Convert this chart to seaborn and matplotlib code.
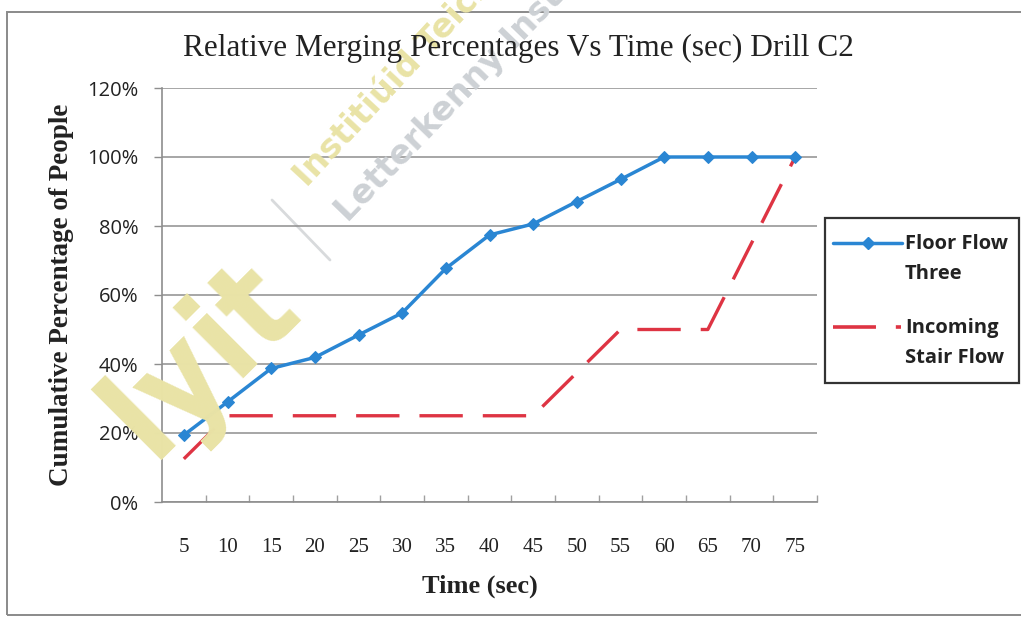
import matplotlib
matplotlib.use("Agg")
import matplotlib.pyplot as plt
from matplotlib.lines import Line2D
from matplotlib.patches import Rectangle
import numpy as np
import pandas as pd
import seaborn as sns

# Drill C2 timings (seconds) and cumulative percentage of people merged
times = [5, 10, 15, 20, 25, 30, 35, 40, 45, 50, 55, 60, 65, 70, 75]
floor_flow_three = [19.4, 29.0, 38.7, 41.9, 48.4, 54.8, 67.7, 77.4, 80.6, 87.1, 93.5,
                    100, 100, 100, 100]
incoming_stair_flow = [12.5, 25, 25, 25, 25, 25, 25, 25, 25, 37.5, 50, 50, 50, 75, 100]
y_ticks = [0, 20, 40, 60, 80, 100, 120]

series_names = ["Floor Flow\nThree", "Incoming\nStair Flow"]
title = "Relative Merging Percentages Vs Time (sec) Drill C2"
x_label = "Time (sec)"
y_label = "Cumulative Percentage of People"

BLUE = "#2a86d3"
RED = "#de3443"
GRID = "#8e8e8e"
INK = "#222222"
SERIF = "Liberation Serif"
SANS = "Open Sans"

sns.set_theme(style="white")
plt.rcParams["font.family"] = ["DejaVu Sans"]

df = pd.DataFrame({
    "time": times,
    "floor": floor_flow_three,
    "stair": incoming_stair_flow,
})

W, H = 1021, 619


def fx(px):
    return px / W


def fy(py):
    return 1 - py / H


fig = plt.figure(figsize=(W / 100, H / 100), dpi=100)
fig.patch.set_facecolor("white")

# Outer chart frame
fig.add_artist(Rectangle((fx(7), fy(615)), 1.1, (615 - 12) / H,
                         transform=fig.transFigure, fill=False,
                         edgecolor="#8a8a8a", lw=1.4, zorder=0))

ax = fig.add_axes([fx(162), fy(502), (817 - 162) / W, (502 - 88) / H])
ax.set_facecolor("none")

# Faint institutional watermark behind the plot
wm = dict(transform=fig.transFigure, ha="left", va="baseline",
          rotation_mode="anchor", zorder=0, family="DejaVu Sans", weight="bold")
fig.text(fx(152), fy(460), "lyit", fontsize=94, color="#e9e3a6", rotation=45,
         fontstretch="condensed", **wm)
fig.add_artist(Line2D([fx(272), fx(330)], [fy(200), fy(260)],
                      transform=fig.transFigure, color="#d8dadc", lw=2, zorder=0))
fig.text(fx(307), fy(188), "Institiúid Teicneolaíochta", fontsize=24,
         color="#e9e3a6", rotation=47, **wm)
fig.text(fx(348), fy(223), "Letterkenny Institute", fontsize=24,
         color="#cdd1d5", rotation=46, **wm)

sns.lineplot(data=df, x="time", y="stair", ax=ax, color=RED, lw=2.4,
             linestyle=(0, (13, 6)), zorder=3)
sns.lineplot(data=df, x="time", y="floor", ax=ax, color=BLUE, lw=2.5,
             marker="D", markersize=6.5, markeredgecolor=BLUE, zorder=4)

ax.set_xlim(2.5, 77.5)
ax.set_ylim(0, 120)
ax.set_yticks(y_ticks)
ax.set_yticklabels([f"{v}%" for v in y_ticks], family=SANS, fontsize=14.5, color=INK)
ax.set_xticks(times)
ax.set_xticklabels([str(t) for t in times], family=SERIF, fontsize=15, color=INK)
ax.set_xticks(np.arange(7.5, 78, 5), minor=True)

ax.grid(axis="y", color=GRID, lw=1.1)
ax.grid(axis="x", visible=False)
ax.set_axisbelow(True)
for side in ("top", "right"):
    ax.spines[side].set_visible(False)
for side in ("left", "bottom"):
    ax.spines[side].set_color(GRID)
    ax.spines[side].set_linewidth(1.2)

ax.tick_params(axis="x", which="major", length=0, pad=26)
ax.tick_params(axis="x", which="minor", direction="in", length=5, color="#a0a0a0",
               width=1, bottom=True)
ax.tick_params(axis="y", which="major", direction="out", length=6, color=GRID,
               width=1, pad=11, left=True)

ax.set_xlabel(x_label, family=SERIF, fontsize=19, weight="bold", color=INK, va="center")
ax.set_ylabel(y_label, family=SERIF, fontsize=19.5, weight="bold", color=INK, va="center")
ax.xaxis.set_label_coords((480 - 162) / 655, (502 - 586) / 414)
ax.yaxis.set_label_coords((62 - 162) / 655, 0.5)

fig.text(fx(518), fy(48), title, ha="center", va="center", family=SERIF,
         fontsize=22.5, color=INK)

# Legend panel on the right
fig.add_artist(Rectangle((fx(825), fy(383)), (1019 - 825) / W, (383 - 218) / H,
                         transform=fig.transFigure, fill=False,
                         edgecolor="#333333", lw=1.6, zorder=5))
fig.add_artist(Line2D([fx(833), fx(902)], [fy(243)] * 2,
                      transform=fig.transFigure, color=BLUE, lw=2.5, zorder=6))
fig.add_artist(Line2D([fx(868)], [fy(243)], transform=fig.transFigure,
                      color=BLUE, marker="D", markersize=6.5, zorder=6))
fig.add_artist(Line2D([fx(833), fx(901)], [fy(327)] * 2,
                      transform=fig.transFigure, color=RED, lw=2.6,
                      linestyle=(0, (11.9, 5.5)), zorder=6))
for name, ytop in zip(series_names, (243, 327)):
    fig.text(fx(905), fy(ytop + 16), name, ha="left", va="center",
             family=SANS, fontsize=14.5, weight="bold", color=INK,
             linespacing=1.65, zorder=6)

fig.savefig("out.png", dpi=100, facecolor="white")
